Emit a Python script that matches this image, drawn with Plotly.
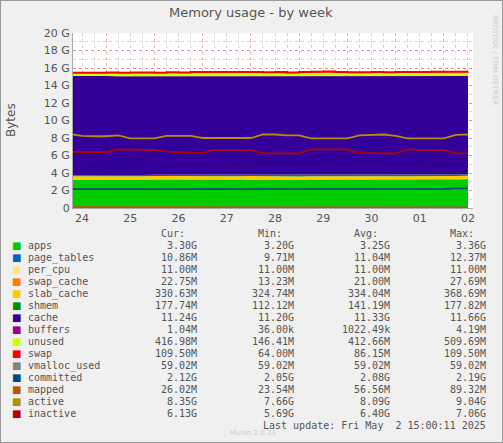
import pandas as pd
import plotly.graph_objects as go

# 6-hourly samples, values in GiB
times = pd.date_range("2025-04-24 06:00", periods=34, freq="6h")

apps = [3.25, 3.24, 3.26, 3.25, 3.22, 3.24, 3.25, 3.26, 3.25, 3.24, 3.26, 3.28, 3.27,
        3.25, 3.26, 3.25, 3.24, 3.26, 3.25, 3.24, 3.26, 3.27, 3.25, 3.24, 3.26, 3.25,
        3.24, 3.26, 3.25, 3.24, 3.26, 3.27, 3.28, 3.30]
page_tables = [0.011] * 34
per_cpu = [0.011] * 34
swap_cache = [0.021] * 34
slab_cache = [0.33, 0.33, 0.33, 0.33, 0.33, 0.33, 0.33, 0.34, 0.34, 0.33, 0.33, 0.33, 0.33,
              0.33, 0.33, 0.36, 0.34, 0.33, 0.33, 0.33, 0.33, 0.33, 0.33, 0.33, 0.33, 0.33,
              0.33, 0.33, 0.33, 0.33, 0.33, 0.33, 0.33, 0.33]
shmem = [0.12, 0.12, 0.12, 0.12, 0.13, 0.13, 0.14, 0.15, 0.16, 0.15, 0.14, 0.13, 0.13,
         0.13, 0.14, 0.12, 0.13, 0.13, 0.14, 0.14, 0.14, 0.15, 0.15, 0.15, 0.14, 0.14,
         0.15, 0.15, 0.15, 0.15, 0.16, 0.17, 0.17, 0.18]
cache = [11.35, 11.33, 11.32, 11.33, 11.34, 11.32, 11.31, 11.30, 11.31, 11.33, 11.32, 11.30, 11.33,
         11.34, 11.32, 11.33, 11.34, 11.31, 11.32, 11.33, 11.35, 11.34, 11.33, 11.32, 11.30, 11.33,
         11.34, 11.32, 11.31, 11.33, 11.34, 11.32, 11.30, 11.24]
buffers = [0.001] * 34
unused = [0.30, 0.34, 0.33, 0.34, 0.32, 0.35, 0.36, 0.30, 0.34, 0.33, 0.33, 0.34, 0.32,
          0.34, 0.33, 0.34, 0.32, 0.35, 0.30, 0.34, 0.33, 0.35, 0.34, 0.33, 0.34, 0.35,
          0.30, 0.33, 0.34, 0.35, 0.32, 0.34, 0.33, 0.41]
swap = [0.063] * 10 + [0.107] * 24
vmalloc_used = [0.058] * 34
committed = [2.15, 2.15, 2.15, 2.15, 2.14, 2.15, 2.15, 2.15, 2.15, 2.15, 2.15, 2.15, 2.16,
             2.15, 2.16, 2.17, 2.15, 2.15, 2.15, 2.15, 2.15, 2.16, 2.15, 2.15, 2.17, 2.15,
             2.15, 2.16, 2.15, 2.17, 2.16, 2.18, 2.25, 2.25]
mapped = [0.085, 0.085, 0.085, 0.085, 0.085, 0.085, 0.085, 0.085, 0.085, 0.085, 0.085, 0.085, 0.085,
          0.085, 0.085, 0.085, 0.03, 0.03, 0.03, 0.03, 0.03, 0.03, 0.03, 0.03, 0.03, 0.03,
          0.03, 0.03, 0.03, 0.03, 0.03, 0.03, 0.03, 0.03]
active = [8.45, 8.25, 8.2, 8.2, 8.3, 7.95, 7.95, 7.95, 8.25, 8.25, 8.25, 8.0, 8.0,
          7.95, 8.0, 8.0, 8.4, 8.4, 8.3, 8.3, 7.95, 7.95, 7.95, 7.95, 8.3, 8.35,
          8.4, 8.25, 7.95, 7.95, 7.95, 7.95, 8.35, 8.4]
inactive = [6.4, 6.4, 6.4, 6.4, 6.7, 6.7, 6.65, 6.65, 6.45, 6.4, 6.35, 6.3, 6.65,
            6.65, 6.65, 6.65, 6.25, 6.25, 6.25, 6.25, 6.7, 6.7, 6.7, 6.7, 6.3, 6.25,
            6.25, 6.25, 6.7, 6.65, 6.65, 6.65, 6.25, 6.25]

stacked = [
    ("apps", apps, "#00cc00"), ("page_tables", page_tables, "#0066b3"),
    ("per_cpu", per_cpu, "#ffe680"), ("swap_cache", swap_cache, "#ff8000"),
    ("slab_cache", slab_cache, "#ffcc00"), ("shmem", shmem, "#008f00"),
    ("cache", cache, "#330099"), ("buffers", buffers, "#990099"),
    ("unused", unused, "#ccff00"), ("swap", swap, "#ff0000"),
]
lines = [
    ("vmalloc_used", vmalloc_used, "#808080"), ("committed", committed, "#00487d"),
    ("mapped", mapped, "#b35a00"), ("active", active, "#b38f00"),
    ("inactive", inactive, "#b30000"),
]

# legend table values (Cur, Min, Avg, Max)
names = ["apps", "page_tables", "per_cpu", "swap_cache", "slab_cache", "shmem", "cache",
         "buffers", "unused", "swap", "vmalloc_used", "committed", "mapped", "active", "inactive"]
cur = ["3.30G", "10.86M", "11.00M", "22.75M", "330.63M", "177.74M", "11.24G", "1.04M",
       "416.98M", "109.50M", "59.02M", "2.12G", "26.02M", "8.35G", "6.13G"]
mins = ["3.20G", "9.71M", "11.00M", "13.23M", "324.74M", "112.12M", "11.20G", "36.00k",
        "146.41M", "64.00M", "59.02M", "2.05G", "23.54M", "7.66G", "5.69G"]
avgs = ["3.25G", "11.04M", "11.00M", "21.00M", "334.04M", "141.19M", "11.33G", "1022.49k",
        "412.66M", "86.15M", "59.02M", "2.08G", "56.56M", "8.09G", "6.40G"]
maxs = ["3.36G", "12.37M", "11.00M", "27.69M", "368.69M", "177.82M", "11.66G", "4.19M",
        "509.69M", "109.50M", "59.02M", "2.19G", "89.32M", "9.04G", "7.06G"]
colors = [c for _, _, c in stacked] + [c for _, _, c in lines]

fig = go.Figure()
for name, vals, col in stacked:
    fig.add_trace(go.Scatter(x=times, y=vals, name=name, stackgroup="one",
                             mode="lines", line=dict(width=0), fillcolor=col))
# thin visible top edge for swap
fig.add_trace(go.Scatter(x=times, y=[sum(s[i] for _, s, _ in stacked) for i in range(34)],
                         mode="lines", line=dict(color="#ff0000", width=2, shape="hv")))
for name, vals, col in lines:
    fig.add_trace(go.Scatter(x=times, y=vals, name=name, mode="lines",
                             line=dict(color=col, width=1.8)))

L, R, T, B = 73, 473, 33, 208
def px(x):
    return (x - L) / (R - L)
def py(y):
    return (B - y) / (B - T)

mono = "DejaVu Sans Mono"
ann = [
    dict(x=px(251), y=py(13), text="Memory usage - by week", font=dict(size=13, color="#555")),
    dict(x=px(11), y=py(120), text="Bytes", textangle=-90, font=dict(size=12, color="#555")),
    dict(x=px(495), y=py(60), text="RRDTOOL / TOBI OETIKER", textangle=90,
         font=dict(size=7, color="#ccc")),
    dict(x=px(253), y=py(433), text="Munin 2.0.33", font=dict(size=7, color="#ccc")),
    dict(x=px(488), y=py(425), text="Last update: Fri May  2 15:00:11 2025", xanchor="right",
         font=dict(size=10, family=mono, color="#555")),
]
for xr, head in zip([199, 296, 392, 488], ["Cur:", "Min:", "Avg:", "Max:"]):
    ann.append(dict(x=px(xr - 12), y=py(233), text=head, xanchor="right",
                    font=dict(size=10, family=mono, color="#555")))
for i, n in enumerate(names):
    yy = py(245.5 + 12 * i)
    ann.append(dict(x=px(17), y=yy, text="■", font=dict(size=10, color=colors[i])))
    ann.append(dict(x=px(26), y=yy, text=n, xanchor="left",
                    font=dict(size=10, family=mono, color="#555")))
    for xr, col in zip([199, 296, 392, 488], [cur, mins, avgs, maxs]):
        ann.append(dict(x=px(xr), y=yy, text=col[i], xanchor="right",
                        font=dict(size=10, family=mono, color="#555")))
for a in ann:
    a.update(xref="paper", yref="paper", showarrow=False)
    a.setdefault("xanchor", "center")
    a["yanchor"] = "middle"

fig.update_layout(
    width=503, height=443, showlegend=False,
    margin=dict(l=L, r=503 - R, t=T, b=443 - B),
    paper_bgcolor="#f0f0f0", plot_bgcolor="#ffffff",
    font=dict(family="DejaVu Sans", size=11, color="#555"),
    annotations=ann,
    xaxis=dict(range=["2025-04-24 07:30", "2025-05-02 14:30"], type="date",
               tick0="2025-04-24", dtick=86400000, tickformat="%d", ticklabelmode="period",
               showgrid=True, gridcolor="rgba(255,80,80,0.5)", griddash="dot", gridwidth=1,
               minor=dict(dtick=21600000, showgrid=True, gridcolor="rgba(150,150,150,0.4)",
                          griddash="dot", ticks=""),
               showline=True, linecolor="#aaa", ticks="", zeroline=False),
    yaxis=dict(range=[0, 20], tickvals=list(range(0, 21, 2)),
               ticktext=["0"] + [f"{v} G" for v in range(2, 21, 2)],
               showgrid=True, gridcolor="rgba(255,80,80,0.5)", griddash="dot",
               minor=dict(dtick=1, showgrid=True, gridcolor="rgba(150,150,150,0.4)",
                          griddash="dot"),
               showline=True, linecolor="#aaa", zeroline=False, ticks=""),
    shapes=[dict(type="rect", xref="paper", yref="paper", x0=px(0), x1=px(503),
                 y0=py(443), y1=py(0), line=dict(color="#999", width=2))],
)

fig.write_html("out.html", config={"displayModeBar": False},
               post_script="document.body.style.margin='0';")
